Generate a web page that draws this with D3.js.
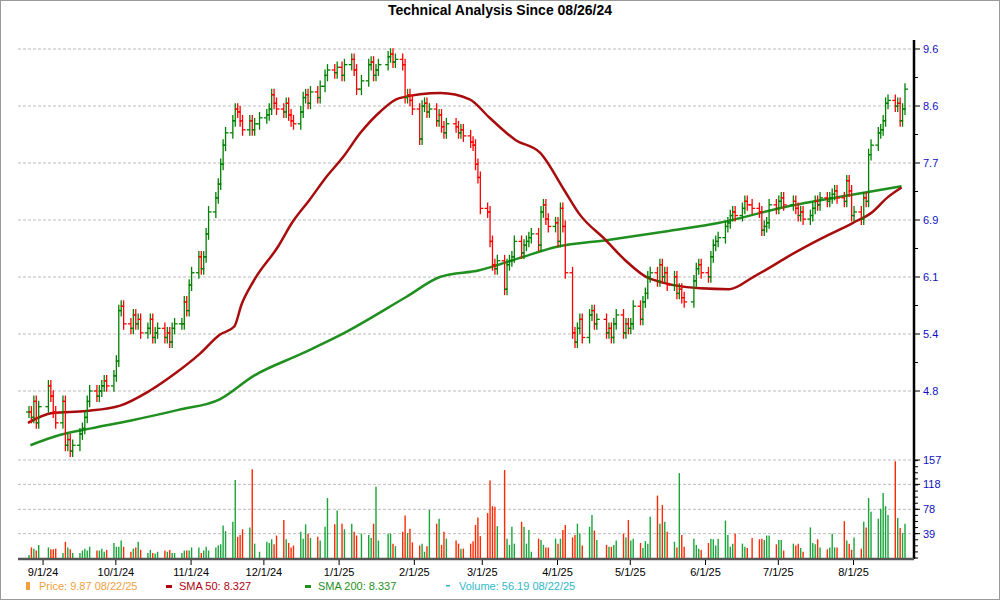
<html>
<head>
<meta charset="utf-8">
<title>Technical Analysis</title>
<script src="https://cdn.jsdelivr.net/npm/d3@7"></script>
<style>
  body { margin: 0; background: #fff; font-family: Arial, "Liberation Sans", sans-serif; }
</style>
</head>
<body>
<div id="chart"></div>
<script>
// closes per trading day, 08/26/24 .. 08/22/25
const closes = [
  4.6,4.55,4.7,4.5,4.65, 4.85,4.75,4.6,4.5,4.7, 4.3,4.35,4.25,4.3,4.4,
  4.45,4.55,4.7,4.8,4.75, 4.8,4.85,4.9,4.85,4.95, 5.1,5.65,5.7,5.5,5.45,
  5.6,5.5,5.55,5.4,5.45, 5.55,5.35,5.4,5.45, 5.35,5.4,5.3,5.45,5.5,
  5.5,5.75,5.65,5.95,6.1, 6.3,6.15,6.3,6.6,6.9, 7.1,7.3,7.6,7.9,8.1,
  8.3,8.5,8.45,8.3,8.15, 8.3,8.15,8.25,8.35,8.4, 8.5,8.75,8.6,8.5,8.45,
  8.6,8.4,8.3,8.25,8.45, 8.7,8.75,8.6,8.8,8.7, 8.9,9.1,9.2,9.15,9.25,
  9.1,9.3,9.4,9.2,8.85, 9.0,9.3,9.35,9.1,9.2, 9.3,9.45,9.5,9.35,9.4,
  9.3,8.7,8.75,8.65,8.5, 8.0,8.55,8.6,8.45,8.5, 8.3,8.4,8.2,8.1,8.25,
  8.2,8.1,8.15,8.05,7.95, 7.9,7.6,7.4,6.95,6.9, 6.5,6.2,6.15,6.25,5.9,
  6.2,6.25,6.3,6.5,6.35, 6.45,6.5,6.55,6.6,6.45, 6.9,7.0,6.8,6.7,6.75,
  6.5,6.95,6.7,6.1,5.4, 5.3,5.45,5.55,5.35,5.6, 5.65,5.5,5.55,5.4,5.45,
  5.35,5.5,5.6,5.4,5.5, 5.45,5.5,5.7,5.55,5.75, 5.85,6.05,6.1,6.0,6.2,
  6.05,6.1,5.95,6.05,5.85, 5.9,5.8,5.75,6.0,6.15, 6.2,6.1,6.05,6.3,6.45,
  6.5,6.55,6.7,6.75,6.85, 6.9,6.85,6.95,7.05,7.0, 6.95,6.9,6.65,6.7,6.75,
  7.0,6.95,7.05,7.1,7.0, 7.05,6.95,6.85,6.9,6.8, 6.85,6.95,7.05,7.0,7.1,
  7.05,7.1,7.15,7.2,7.1, 7.05,7.35,7.2,6.85,6.9, 6.8,7.1,7.05,7.75,7.9,
  8.1,8.15,8.3,8.6,8.65, 8.55,8.6,8.3,8.5,8.85
];
const volumes = [
  5,17,15,12,21, 17,14,14,15, 8,26,17,14,8, 8,12,15,12,18, 12,12,15,10,13,
  24,18,18,28,18, 10,15,17,26,13, 8,13,8,7,10, 12,10,13,8,8, 8,12,12,12,17,
  17,8,12,18,12, 17,20,22,52,43, 58,125,34,37,46, 49,142,23,10,
  26,24,30,22,36, 61,30,24,17,20, 42,31,54,39,32, 34,28,50,96, 54,76,55,46,
  55,42,36,39, 37,32,55,114,28, 39,39,23,19, 42,68,40,47,25, 20,23,10,19,77,
  55,63,21,42,31, 28,23,15,15, 23,27,53,65,35, 72,124,83,82,51, 141,31,21,50,23,
  58,50,23,45,10, 31,29,21,17,17, 31,23,31,45,53, 33,37,55,39,20, 50,69,44,29,
  21,18,18,21,28, 39,33,61,28,31, 24,16,27,23,66, 100,55,85,58,42, 26,17,136,37,18,
  31,21,15,13, 24,31,30,20,31, 60,37,18,23,39, 23,18,16,32, 30,31,29,36,36,
  22,29,29,12, 23,20,23,16,10, 49,24,22,30,17, 14,17,39,17,17, 59,28,23,13,33,
  15,58,49,96,74, 63,79,104,83,69, 155,64,48,40,55
];
// moving averages: [days after 08/26/24, value]
const sma50 = [
  [0,4.50],[10,4.59],[24,4.61],[38,4.66],[50,4.80],[61,4.98],[71,5.18],[79,5.38],
  [85,5.47],[88,5.72],[93,6.00],[103,6.43],[109,6.76],[116,7.07],[123,7.41],[130,7.72],
  [137,8.10],[145,8.45],[153,8.69],[170,8.78],[182,8.67],[190,8.36],[201,7.98],
  [211,7.78],[221,7.21],[227,6.88],[238,6.52],[246,6.26],[256,6.03],[277,5.91],
  [289,5.90],[299,6.05],[306,6.17],[313,6.30],[327,6.54],[340,6.75],[348,6.90],
  [354,7.10],[360,7.25]
];
const sma200 = [
  [1,4.30],[13,4.39],[26,4.45],[42,4.52],[62,4.62],[79,4.72],[93,4.95],[113,5.18],[129,5.38],
  [156,5.81],[170,6.05],[186,6.13],[204,6.30],[218,6.43],[239,6.52],[264,6.64],
  [285,6.75],[312,6.97],[339,7.14],[360,7.27]
];
const holidays = ["2024-09-02","2024-11-28","2024-12-25","2025-01-01","2025-01-09","2025-01-20",
  "2025-02-17","2025-04-18","2025-05-26","2025-06-19","2025-07-04"];
const priceTickLabels = ["4.8","5.4","6.1","6.9","7.7","8.6","9.6"];
const volumeTicks = [39, 78, 118, 157];
const monthTicks = ["2024-09-01","2024-10-01","2024-11-01","2024-12-01","2025-01-01","2025-02-01",
  "2025-03-01","2025-04-01","2025-05-01","2025-06-01","2025-07-01","2025-08-01"];

const W = 1000, H = 600;
const parse = d3.utcParse("%Y-%m-%d");
const start = parse("2024-08-26"), end = parse("2025-08-22");
const hol = new Set(holidays);
const days = d3.utcDays(start, d3.utcDay.offset(end, 1))
  .filter(d => d.getUTCDay() > 0 && d.getUTCDay() < 6 && !hol.has(d3.utcFormat("%Y-%m-%d")(d)));
const n = Math.min(days.length, closes.length);

const x = d3.scaleUtc().domain([start, end]).range([28, 904]);
const y = d3.scaleLog().domain([4.8, 9.6]).range([391, 49]);
const yv = d3.scaleLinear().domain([0, 157]).range([558, 460]);
const plotL = 18, plotR = 914;

const svg = d3.select("#chart").append("svg").attr("width", W).attr("height", H)
  .style("font-family", "Arial, 'Liberation Sans', sans-serif");
svg.append("rect").attr("x", 0.5).attr("y", 0.5).attr("width", W - 1).attr("height", H - 1)
  .attr("fill", "#fff").attr("stroke", "#999");

svg.append("text").attr("x", 500).attr("y", 15).attr("text-anchor", "middle")
  .attr("font-size", 14).attr("font-weight", "bold").text("Technical Analysis Since 08/26/24");

// grid + price axis
const priceTicks = priceTickLabels.map((t, i) => 4.8 * Math.pow(2, i / 6));
priceTicks.forEach((v, i) => {
  svg.append("line").attr("x1", plotL).attr("x2", plotR).attr("y1", y(v)).attr("y2", y(v))
    .attr("stroke", "#bbb").attr("stroke-dasharray", "3,2");
  svg.append("line").attr("x1", plotR).attr("x2", plotR + 6).attr("y1", y(v)).attr("y2", y(v)).attr("stroke", "#000");
  svg.append("text").attr("x", plotR + 9).attr("y", y(v) + 4).attr("font-size", 11).attr("fill", "#1010c0")
    .text(priceTickLabels[i]);
  if (i < 6) {
    const m = 4.8 * Math.pow(2, (i + 0.5) / 6);
    svg.append("line").attr("x1", plotR).attr("x2", plotR + 4).attr("y1", y(m)).attr("y2", y(m)).attr("stroke", "#000");
  }
});
volumeTicks.forEach(v => {
  svg.append("line").attr("x1", plotL).attr("x2", plotR).attr("y1", yv(v)).attr("y2", yv(v))
    .attr("stroke", "#bbb").attr("stroke-dasharray", "3,2");
  svg.append("line").attr("x1", plotR).attr("x2", plotR + 6).attr("y1", yv(v)).attr("y2", yv(v)).attr("stroke", "#000");
  svg.append("text").attr("x", plotR + 9).attr("y", yv(v) + 4).attr("font-size", 11).attr("fill", "#1010c0").text(v);
});
d3.range(0, 157, 9.75).forEach(v => {
  svg.append("line").attr("x1", plotR).attr("x2", plotR + 4).attr("y1", yv(v)).attr("y2", yv(v)).attr("stroke", "#000");
});
svg.append("line").attr("x1", plotR).attr("x2", plotR).attr("y1", 40).attr("y2", 559)
  .attr("stroke", "#000").attr("stroke-width", 2.5);
svg.append("line").attr("x1", plotL).attr("x2", plotR).attr("y1", 559).attr("y2", 559)
  .attr("stroke", "#555").attr("stroke-width", 2.5);

// x axis
const xAxis = svg.append("g").attr("transform", "translate(0,560)")
  .call(d3.axisBottom(x).tickValues(monthTicks.map(parse)).tickSize(5).tickFormat(d3.utcFormat("%-m/%-d/%y")));
xAxis.select(".domain").remove();
xAxis.selectAll("text").attr("font-size", 11).attr("fill", "#000").attr("font-family", "Arial, 'Liberation Sans', sans-serif");

// moving averages
const line = d3.line().x(d => x(d3.utcDay.offset(start, d[0]))).y(d => y(d[1])).curve(d3.curveMonotoneX);
svg.append("path").datum(sma200).attr("d", line).attr("fill", "none").attr("stroke", "#1f8f1f").attr("stroke-width", 2.5);
svg.append("path").datum(sma50).attr("d", line).attr("fill", "none").attr("stroke", "#a80c0c").attr("stroke-width", 2.5);

// price bars, open = previous close
const bars = d3.range(n).map(i => {
  const c = closes[i], o = i ? closes[i - 1] : c;
  return { d: days[i], o, c, h: Math.max(o, c) * 1.012, l: Math.min(o, c) * 0.988, up: c >= o, v: volumes[i] };
});
const g = svg.append("g");
bars.forEach(b => {
  const col = b.up ? "#008000" : "#ff0000", cx = x(b.d) + 1;
  g.append("line").attr("x1", cx).attr("x2", cx).attr("y1", y(b.h)).attr("y2", y(b.l)).attr("stroke", col).attr("stroke-width", 1.3);
  g.append("line").attr("x1", cx - 3).attr("x2", cx).attr("y1", y(b.o)).attr("y2", y(b.o)).attr("stroke", col).attr("stroke-width", 1.3);
  g.append("line").attr("x1", cx).attr("x2", cx + 3).attr("y1", y(b.c)).attr("y2", y(b.c)).attr("stroke", col).attr("stroke-width", 1.3);
  if (b.v != null)
    g.append("line").attr("x1", cx).attr("x2", cx).attr("y1", yv(0)).attr("y2", yv(b.v))
      .attr("stroke", b.up ? "#1aa53a" : "#ff2a00").attr("stroke-width", 1.4);
});

// legend
const legend = [
  { x: 26, c: "#f0a040", t: "Price: 9.87  08/22/25", m: "rect" },
  { x: 166, c: "#b00010", t: "SMA 50: 8.327", m: "dash" },
  { x: 305, c: "#1f8f1f", t: "SMA 200: 8.337", m: "dash" },
  { x: 446, c: "#30b8c8", t: "Volume: 56.19  08/22/25", m: "thin" }
];
legend.forEach(l => {
  if (l.m === "rect") svg.append("rect").attr("x", l.x).attr("y", 582).attr("width", 4).attr("height", 8).attr("fill", l.c);
  else svg.append("rect").attr("x", l.x).attr("y", 585).attr("width", l.m === "dash" ? 6 : 4)
    .attr("height", l.m === "dash" ? 3 : 1.5).attr("fill", l.c);
  svg.append("text").attr("x", l.x + 13).attr("y", 590).attr("font-size", 11).attr("fill", l.c).text(l.t);
});
</script>
</body>
</html>
